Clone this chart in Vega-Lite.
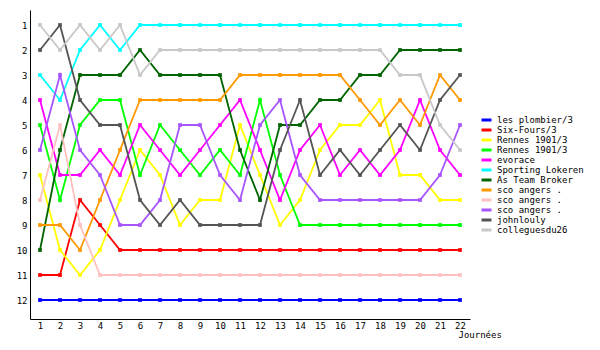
{
  "$schema": "https://vega.github.io/schema/vega-lite/v6.json",
  "width": 440,
  "height": 309,
  "autosize": "none",
  "padding": {"left": 30, "top": 10, "right": 130, "bottom": 31},
  "background": "white",
  "config": {
    "view": {"stroke": null},
    "font": "DejaVu Sans Mono",
    "axis": {"labelFont": "DejaVu Sans Mono", "titleFont": "DejaVu Sans Mono", "labelColor": "black", "titleColor": "black", "domainColor": "black", "domainWidth": 1, "grid": false, "ticks": false},
    "legend": {"labelFont": "DejaVu Sans Mono"}
  },
  "data": {"values": [
    {"t":"01|les plombier/3","j":1,"r":12},{"t":"01|les plombier/3","j":2,"r":12},{"t":"01|les plombier/3","j":3,"r":12},{"t":"01|les plombier/3","j":4,"r":12},{"t":"01|les plombier/3","j":5,"r":12},{"t":"01|les plombier/3","j":6,"r":12},{"t":"01|les plombier/3","j":7,"r":12},{"t":"01|les plombier/3","j":8,"r":12},{"t":"01|les plombier/3","j":9,"r":12},{"t":"01|les plombier/3","j":10,"r":12},{"t":"01|les plombier/3","j":11,"r":12},{"t":"01|les plombier/3","j":12,"r":12},{"t":"01|les plombier/3","j":13,"r":12},{"t":"01|les plombier/3","j":14,"r":12},{"t":"01|les plombier/3","j":15,"r":12},{"t":"01|les plombier/3","j":16,"r":12},{"t":"01|les plombier/3","j":17,"r":12},{"t":"01|les plombier/3","j":18,"r":12},{"t":"01|les plombier/3","j":19,"r":12},{"t":"01|les plombier/3","j":20,"r":12},{"t":"01|les plombier/3","j":21,"r":12},{"t":"01|les plombier/3","j":22,"r":12},
    {"t":"02|Six-Fours/3","j":1,"r":11},{"t":"02|Six-Fours/3","j":2,"r":11},{"t":"02|Six-Fours/3","j":3,"r":8},{"t":"02|Six-Fours/3","j":4,"r":9},{"t":"02|Six-Fours/3","j":5,"r":10},{"t":"02|Six-Fours/3","j":6,"r":10},{"t":"02|Six-Fours/3","j":7,"r":10},{"t":"02|Six-Fours/3","j":8,"r":10},{"t":"02|Six-Fours/3","j":9,"r":10},{"t":"02|Six-Fours/3","j":10,"r":10},{"t":"02|Six-Fours/3","j":11,"r":10},{"t":"02|Six-Fours/3","j":12,"r":10},{"t":"02|Six-Fours/3","j":13,"r":10},{"t":"02|Six-Fours/3","j":14,"r":10},{"t":"02|Six-Fours/3","j":15,"r":10},{"t":"02|Six-Fours/3","j":16,"r":10},{"t":"02|Six-Fours/3","j":17,"r":10},{"t":"02|Six-Fours/3","j":18,"r":10},{"t":"02|Six-Fours/3","j":19,"r":10},{"t":"02|Six-Fours/3","j":20,"r":10},{"t":"02|Six-Fours/3","j":21,"r":10},{"t":"02|Six-Fours/3","j":22,"r":10},
    {"t":"03|Rennes 1901/3","j":1,"r":7},{"t":"03|Rennes 1901/3","j":2,"r":10},{"t":"03|Rennes 1901/3","j":3,"r":11},{"t":"03|Rennes 1901/3","j":4,"r":10},{"t":"03|Rennes 1901/3","j":5,"r":8},{"t":"03|Rennes 1901/3","j":6,"r":6},{"t":"03|Rennes 1901/3","j":7,"r":7},{"t":"03|Rennes 1901/3","j":8,"r":9},{"t":"03|Rennes 1901/3","j":9,"r":8},{"t":"03|Rennes 1901/3","j":10,"r":8},{"t":"03|Rennes 1901/3","j":11,"r":5},{"t":"03|Rennes 1901/3","j":12,"r":7},{"t":"03|Rennes 1901/3","j":13,"r":9},{"t":"03|Rennes 1901/3","j":14,"r":8},{"t":"03|Rennes 1901/3","j":15,"r":6},{"t":"03|Rennes 1901/3","j":16,"r":5},{"t":"03|Rennes 1901/3","j":17,"r":5},{"t":"03|Rennes 1901/3","j":18,"r":4},{"t":"03|Rennes 1901/3","j":19,"r":7},{"t":"03|Rennes 1901/3","j":20,"r":7},{"t":"03|Rennes 1901/3","j":21,"r":8},{"t":"03|Rennes 1901/3","j":22,"r":8},
    {"t":"04|Rennes 1901/3","j":1,"r":5},{"t":"04|Rennes 1901/3","j":2,"r":8},{"t":"04|Rennes 1901/3","j":3,"r":5},{"t":"04|Rennes 1901/3","j":4,"r":4},{"t":"04|Rennes 1901/3","j":5,"r":4},{"t":"04|Rennes 1901/3","j":6,"r":7},{"t":"04|Rennes 1901/3","j":7,"r":5},{"t":"04|Rennes 1901/3","j":8,"r":6},{"t":"04|Rennes 1901/3","j":9,"r":7},{"t":"04|Rennes 1901/3","j":10,"r":6},{"t":"04|Rennes 1901/3","j":11,"r":7},{"t":"04|Rennes 1901/3","j":12,"r":4},{"t":"04|Rennes 1901/3","j":13,"r":7},{"t":"04|Rennes 1901/3","j":14,"r":9},{"t":"04|Rennes 1901/3","j":15,"r":9},{"t":"04|Rennes 1901/3","j":16,"r":9},{"t":"04|Rennes 1901/3","j":17,"r":9},{"t":"04|Rennes 1901/3","j":18,"r":9},{"t":"04|Rennes 1901/3","j":19,"r":9},{"t":"04|Rennes 1901/3","j":20,"r":9},{"t":"04|Rennes 1901/3","j":21,"r":9},{"t":"04|Rennes 1901/3","j":22,"r":9},
    {"t":"05|evorace","j":1,"r":4},{"t":"05|evorace","j":2,"r":7},{"t":"05|evorace","j":3,"r":7},{"t":"05|evorace","j":4,"r":6},{"t":"05|evorace","j":5,"r":7},{"t":"05|evorace","j":6,"r":5},{"t":"05|evorace","j":7,"r":6},{"t":"05|evorace","j":8,"r":7},{"t":"05|evorace","j":9,"r":6},{"t":"05|evorace","j":10,"r":5},{"t":"05|evorace","j":11,"r":4},{"t":"05|evorace","j":12,"r":6},{"t":"05|evorace","j":13,"r":8},{"t":"05|evorace","j":14,"r":6},{"t":"05|evorace","j":15,"r":5},{"t":"05|evorace","j":16,"r":7},{"t":"05|evorace","j":17,"r":6},{"t":"05|evorace","j":18,"r":7},{"t":"05|evorace","j":19,"r":6},{"t":"05|evorace","j":20,"r":4},{"t":"05|evorace","j":21,"r":6},{"t":"05|evorace","j":22,"r":7},
    {"t":"06|Sporting Lokeren","j":1,"r":3},{"t":"06|Sporting Lokeren","j":2,"r":4},{"t":"06|Sporting Lokeren","j":3,"r":2},{"t":"06|Sporting Lokeren","j":4,"r":1},{"t":"06|Sporting Lokeren","j":5,"r":2},{"t":"06|Sporting Lokeren","j":6,"r":1},{"t":"06|Sporting Lokeren","j":7,"r":1},{"t":"06|Sporting Lokeren","j":8,"r":1},{"t":"06|Sporting Lokeren","j":9,"r":1},{"t":"06|Sporting Lokeren","j":10,"r":1},{"t":"06|Sporting Lokeren","j":11,"r":1},{"t":"06|Sporting Lokeren","j":12,"r":1},{"t":"06|Sporting Lokeren","j":13,"r":1},{"t":"06|Sporting Lokeren","j":14,"r":1},{"t":"06|Sporting Lokeren","j":15,"r":1},{"t":"06|Sporting Lokeren","j":16,"r":1},{"t":"06|Sporting Lokeren","j":17,"r":1},{"t":"06|Sporting Lokeren","j":18,"r":1},{"t":"06|Sporting Lokeren","j":19,"r":1},{"t":"06|Sporting Lokeren","j":20,"r":1},{"t":"06|Sporting Lokeren","j":21,"r":1},{"t":"06|Sporting Lokeren","j":22,"r":1},
    {"t":"07|As Team Broker","j":1,"r":10},{"t":"07|As Team Broker","j":2,"r":6},{"t":"07|As Team Broker","j":3,"r":3},{"t":"07|As Team Broker","j":4,"r":3},{"t":"07|As Team Broker","j":5,"r":3},{"t":"07|As Team Broker","j":6,"r":2},{"t":"07|As Team Broker","j":7,"r":3},{"t":"07|As Team Broker","j":8,"r":3},{"t":"07|As Team Broker","j":9,"r":3},{"t":"07|As Team Broker","j":10,"r":3},{"t":"07|As Team Broker","j":11,"r":6},{"t":"07|As Team Broker","j":12,"r":8},{"t":"07|As Team Broker","j":13,"r":5},{"t":"07|As Team Broker","j":14,"r":5},{"t":"07|As Team Broker","j":15,"r":4},{"t":"07|As Team Broker","j":16,"r":4},{"t":"07|As Team Broker","j":17,"r":3},{"t":"07|As Team Broker","j":18,"r":3},{"t":"07|As Team Broker","j":19,"r":2},{"t":"07|As Team Broker","j":20,"r":2},{"t":"07|As Team Broker","j":21,"r":2},{"t":"07|As Team Broker","j":22,"r":2},
    {"t":"08|sco angers .","j":1,"r":9},{"t":"08|sco angers .","j":2,"r":9},{"t":"08|sco angers .","j":3,"r":10},{"t":"08|sco angers .","j":4,"r":8},{"t":"08|sco angers .","j":5,"r":6},{"t":"08|sco angers .","j":6,"r":4},{"t":"08|sco angers .","j":7,"r":4},{"t":"08|sco angers .","j":8,"r":4},{"t":"08|sco angers .","j":9,"r":4},{"t":"08|sco angers .","j":10,"r":4},{"t":"08|sco angers .","j":11,"r":3},{"t":"08|sco angers .","j":12,"r":3},{"t":"08|sco angers .","j":13,"r":3},{"t":"08|sco angers .","j":14,"r":3},{"t":"08|sco angers .","j":15,"r":3},{"t":"08|sco angers .","j":16,"r":3},{"t":"08|sco angers .","j":17,"r":4},{"t":"08|sco angers .","j":18,"r":5},{"t":"08|sco angers .","j":19,"r":4},{"t":"08|sco angers .","j":20,"r":5},{"t":"08|sco angers .","j":21,"r":3},{"t":"08|sco angers .","j":22,"r":4},
    {"t":"09|sco angers .","j":1,"r":8},{"t":"09|sco angers .","j":2,"r":5},{"t":"09|sco angers .","j":3,"r":9},{"t":"09|sco angers .","j":4,"r":11},{"t":"09|sco angers .","j":5,"r":11},{"t":"09|sco angers .","j":6,"r":11},{"t":"09|sco angers .","j":7,"r":11},{"t":"09|sco angers .","j":8,"r":11},{"t":"09|sco angers .","j":9,"r":11},{"t":"09|sco angers .","j":10,"r":11},{"t":"09|sco angers .","j":11,"r":11},{"t":"09|sco angers .","j":12,"r":11},{"t":"09|sco angers .","j":13,"r":11},{"t":"09|sco angers .","j":14,"r":11},{"t":"09|sco angers .","j":15,"r":11},{"t":"09|sco angers .","j":16,"r":11},{"t":"09|sco angers .","j":17,"r":11},{"t":"09|sco angers .","j":18,"r":11},{"t":"09|sco angers .","j":19,"r":11},{"t":"09|sco angers .","j":20,"r":11},{"t":"09|sco angers .","j":21,"r":11},{"t":"09|sco angers .","j":22,"r":11},
    {"t":"10|sco angers .","j":1,"r":6},{"t":"10|sco angers .","j":2,"r":3},{"t":"10|sco angers .","j":3,"r":6},{"t":"10|sco angers .","j":4,"r":7},{"t":"10|sco angers .","j":5,"r":9},{"t":"10|sco angers .","j":6,"r":9},{"t":"10|sco angers .","j":7,"r":8},{"t":"10|sco angers .","j":8,"r":5},{"t":"10|sco angers .","j":9,"r":5},{"t":"10|sco angers .","j":10,"r":7},{"t":"10|sco angers .","j":11,"r":8},{"t":"10|sco angers .","j":12,"r":5},{"t":"10|sco angers .","j":13,"r":4},{"t":"10|sco angers .","j":14,"r":7},{"t":"10|sco angers .","j":15,"r":8},{"t":"10|sco angers .","j":16,"r":8},{"t":"10|sco angers .","j":17,"r":8},{"t":"10|sco angers .","j":18,"r":8},{"t":"10|sco angers .","j":19,"r":8},{"t":"10|sco angers .","j":20,"r":8},{"t":"10|sco angers .","j":21,"r":7},{"t":"10|sco angers .","j":22,"r":5},
    {"t":"11|johnlouly","j":1,"r":2},{"t":"11|johnlouly","j":2,"r":1},{"t":"11|johnlouly","j":3,"r":4},{"t":"11|johnlouly","j":4,"r":5},{"t":"11|johnlouly","j":5,"r":5},{"t":"11|johnlouly","j":6,"r":8},{"t":"11|johnlouly","j":7,"r":9},{"t":"11|johnlouly","j":8,"r":8},{"t":"11|johnlouly","j":9,"r":9},{"t":"11|johnlouly","j":10,"r":9},{"t":"11|johnlouly","j":11,"r":9},{"t":"11|johnlouly","j":12,"r":9},{"t":"11|johnlouly","j":13,"r":6},{"t":"11|johnlouly","j":14,"r":4},{"t":"11|johnlouly","j":15,"r":7},{"t":"11|johnlouly","j":16,"r":6},{"t":"11|johnlouly","j":17,"r":7},{"t":"11|johnlouly","j":18,"r":6},{"t":"11|johnlouly","j":19,"r":5},{"t":"11|johnlouly","j":20,"r":6},{"t":"11|johnlouly","j":21,"r":4},{"t":"11|johnlouly","j":22,"r":3},
    {"t":"12|colleguesdu26","j":1,"r":1},{"t":"12|colleguesdu26","j":2,"r":2},{"t":"12|colleguesdu26","j":3,"r":1},{"t":"12|colleguesdu26","j":4,"r":2},{"t":"12|colleguesdu26","j":5,"r":1},{"t":"12|colleguesdu26","j":6,"r":3},{"t":"12|colleguesdu26","j":7,"r":2},{"t":"12|colleguesdu26","j":8,"r":2},{"t":"12|colleguesdu26","j":9,"r":2},{"t":"12|colleguesdu26","j":10,"r":2},{"t":"12|colleguesdu26","j":11,"r":2},{"t":"12|colleguesdu26","j":12,"r":2},{"t":"12|colleguesdu26","j":13,"r":2},{"t":"12|colleguesdu26","j":14,"r":2},{"t":"12|colleguesdu26","j":15,"r":2},{"t":"12|colleguesdu26","j":16,"r":2},{"t":"12|colleguesdu26","j":17,"r":2},{"t":"12|colleguesdu26","j":18,"r":2},{"t":"12|colleguesdu26","j":19,"r":3},{"t":"12|colleguesdu26","j":20,"r":3},{"t":"12|colleguesdu26","j":21,"r":5},{"t":"12|colleguesdu26","j":22,"r":6}
  ]},
  "encoding": {
    "x": {"field": "j", "type": "quantitative",
      "scale": {"domain": [0.5, 22.5], "nice": false, "zero": false},
      "axis": {"values": [1,2,3,4,5,6,7,8,9,10,11,12,13,14,15,16,17,18,19,20,21,22], "labelFontSize": 9, "labelPadding": 2, "labelFlush": false, "title": "Journées", "titleFontSize": 9, "titleFontWeight": "normal", "titleAlign": "left", "titleAnchor": "start", "titleX": 428, "titleY": 11}},
    "y": {"field": "r", "type": "quantitative",
      "scale": {"domain": [0.4, 12.76], "reverse": true, "nice": false, "zero": false},
      "axis": {"values": [1,2,3,4,5,6,7,8,9,10,11,12], "labelFontSize": 9, "labelPadding": 3, "title": null}},
    "color": {"field": "t", "type": "nominal",
      "scale": {
        "domain": ["01|les plombier/3","02|Six-Fours/3","03|Rennes 1901/3","04|Rennes 1901/3","05|evorace","06|Sporting Lokeren","07|As Team Broker","08|sco angers .","09|sco angers .","10|sco angers .","11|johnlouly","12|colleguesdu26"],
        "range": ["#0000FF","#FF0000","#FFFF00","#00FF00","#FF00FF","#00FFFF","#006400","#FF9900","#FFC0C0","#A855FF","#555555","#C8C8C8"]},
      "legend": {"title": null, "orient": "none", "legendX": 450, "legendY": 105, "symbolType": "stroke", "symbolSize": 100, "symbolStrokeWidth": 3, "labelFontSize": 9, "labelOffset": 4, "rowPadding": 0, "clipHeight": 10, "labelExpr": "split(datum.label, '|')[1]", "labelColor": "black", "padding": 0}}
  },
  "layer": [
    {"mark": {"type": "line", "strokeWidth": 1.8}, "encoding": {"detail": {"field": "t"}}},
    {"mark": {"type": "point", "shape": "square", "filled": true, "size": 14, "opacity": 1}}
  ]
}
